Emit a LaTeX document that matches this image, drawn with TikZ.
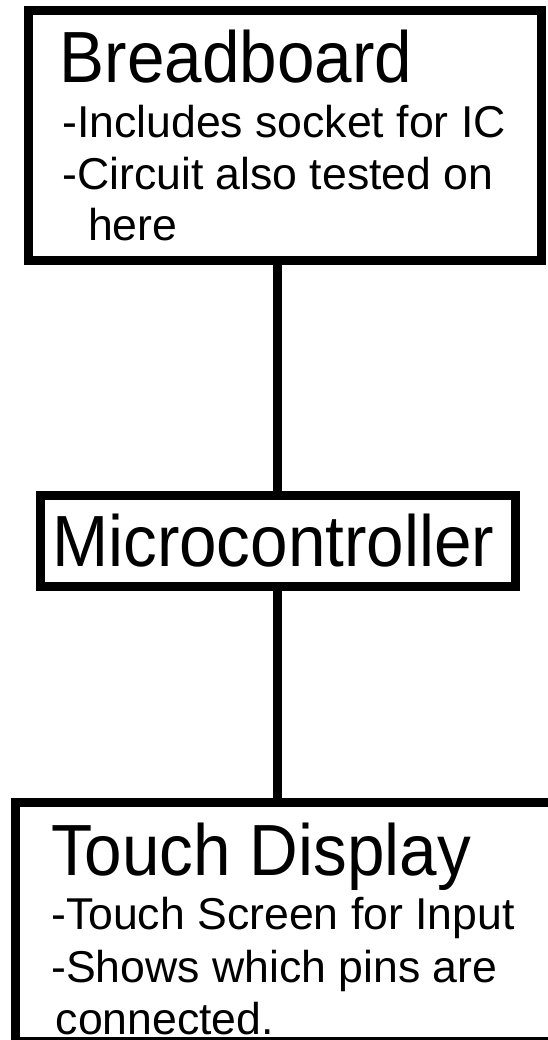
\documentclass[tikz,border=0pt]{standalone}
\usepackage{fontspec}
\setmainfont{Liberation Sans}
\newfontfamily\titlefont[FakeStretch=0.93]{Liberation Sans}
\begin{document}
\begin{tikzpicture}[x=1pt,y=-1pt,
  box/.style={draw=black,line width=9pt,rectangle,inner sep=0pt,fill=white},
  wire/.style={draw=black,line width=8.5pt},
  title/.style={anchor=base west,inner sep=0pt,font=\titlefont\fontsize{72.5}{72.5}\selectfont},
  note/.style={anchor=base west,inner sep=0pt,font=\fontsize{44.6}{44.6}\selectfont}]
\useasboundingbox (0,0) rectangle (548,1040);
\clip (0,0) rectangle (548,1040);

% blocks
\node[box,minimum width=513.5pt,minimum height=250pt] (bb) at (284.75,135.5) {};
\node[box,minimum width=475pt,minimum height=91pt] (mc) at (277.5,540.5) {};
\node[box,minimum width=550pt,minimum height=239.5pt] (td) at (290,921.75) {};

% links
\draw[wire] (mc.north) -- (mc.north |- bb.south);
\draw[wire] (mc.south) -- (mc.south |- td.north);

% Breadboard
\node[title] (bbt) at (59.5,83) {Breadboard};
\node[note] (bb1) at (62,137.4) {-Includes socket for IC};
\node[note] (bb2) at (62,190) {-Circuit also tested on};
\node[note] (bb3) at (88,241) {here};

% Microcontroller
\node[title] (mct) at (52,566.4) {Microcontroller};

% Touch Display
\node[title] (tdt) at (51,875) {Touch Display};
\node[note] (td1) at (51,929.6) {-Touch Screen for Input};
\node[note] (td2) at (51,982) {-Shows which pins are};
\node[note] (td3) at (55.5,1034) {connected.};
\end{tikzpicture}
\end{document}
